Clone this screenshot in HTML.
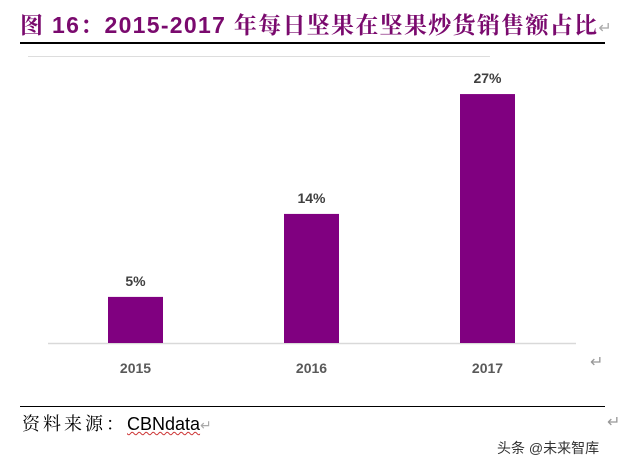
<!DOCTYPE html>
<html><head><meta charset="utf-8"><style>
body{margin:0;width:631px;height:468px;background:#fff;overflow:hidden;position:relative;font-family:"Liberation Sans","Noto Sans CJK SC",sans-serif}
.abs{position:absolute}
</style></head><body>
<div class="abs" style="left:20px;top:7px;font-size:23px;font-weight:bold;color:#7a0a6e;white-space:nowrap;letter-spacing:1.3px;font-family:'Liberation Sans','Noto Serif CJK SC',serif">图 16：2015-2017 年每日坚果在坚果炒货销售额占比<span style="color:#aaa;font-weight:normal;font-size:16px">↵</span></div>
<div class="abs" style="left:20px;top:42px;width:585px;height:2px;background:#000"></div>
<div class="abs" style="left:28px;top:56px;width:462px;height:1px;background:#ddd"></div>
<svg class="abs" style="left:0;top:0" width="631" height="400">
<line x1="48" y1="343.5" x2="576" y2="343.5" stroke="#d9d9d9" stroke-width="1.5"/>
<g id="g"></g>
</svg>
<div class="abs" style="left:590px;top:352px;color:#999;font-size:16px">↵</div>
<div class="abs" style="left:20px;top:406px;width:585px;height:1px;background:#000"></div>
<div class="abs" style="left:22px;top:410px;font-size:18px;color:#000;font-family:'Liberation Serif','Noto Serif CJK SC',serif"><span style="letter-spacing:3px">资料来源：</span><span style="font-family:'Liberation Sans',sans-serif;text-decoration:underline wavy #c33;text-decoration-thickness:1px">CBNdata</span><span style="color:#aaa;font-size:14px">↵</span></div>
<div class="abs" style="left:607px;top:412px;color:#999;font-size:16px">↵</div>
<div class="abs" style="left:497px;top:438px;font-size:14px;color:#333">头条 @未来智库</div>
<script>
const categories=["2015","2016","2017"];
const values=[5,14,27];
const labels=["5%","14%","27%"];
const g=document.getElementById('g');
const ns='http://www.w3.org/2000/svg';
const y0=343,scale=9.22;
const xc=i=>135.5+i*176;
const y=v=>y0-v*scale;
categories.forEach((c,i)=>{
 const r=document.createElementNS(ns,'rect');
 
 
 r.setAttribute('x',xc(i)-27.5);r.setAttribute('width',55);
 r.setAttribute('y',y(values[i]));r.setAttribute('height',y0-y(values[i]));
 r.setAttribute('fill','#800080');g.appendChild(r);
 const t=document.createElementNS(ns,'text');
 
 
 t.setAttribute('x',xc(i));t.setAttribute('y',y(values[i])-11);
 t.setAttribute('text-anchor','middle');t.setAttribute('font-size','14');t.setAttribute('font-weight','bold');t.setAttribute('fill','#404040');
 t.textContent=labels[i];g.appendChild(t);
 const l=document.createElementNS(ns,'text');
 
 
 l.setAttribute('x',xc(i));l.setAttribute('y',373);
 l.setAttribute('text-anchor','middle');l.setAttribute('font-size','14');l.setAttribute('font-weight','bold');l.setAttribute('fill','#595959');
 l.textContent=c;g.appendChild(l);
});
</script>
</body></html>
